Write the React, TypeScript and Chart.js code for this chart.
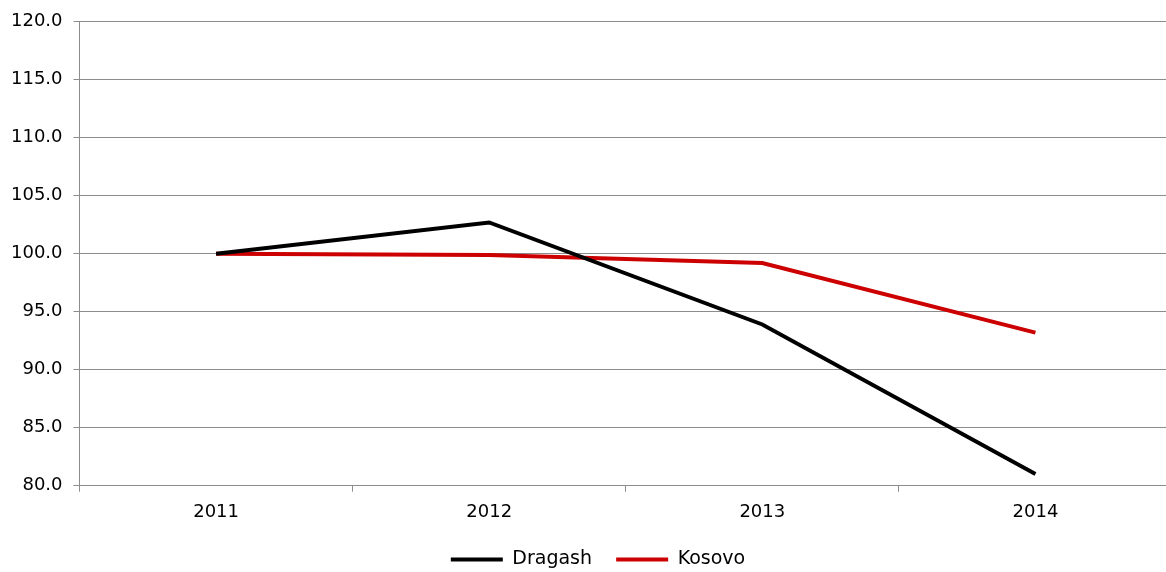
import React, { useEffect, useRef } from "react";
import { Chart, registerables } from "chart.js";

Chart.register(...registerables);

const categories = ["2011", "2012", "2013", "2014"];
const dragash = [100.0, 102.7, 93.9, 81.0];
const kosovo = [100.0, 99.9, 99.2, 93.2];
const yMin = 80;
const yMax = 120;
const yStep = 5;

const shiftLegend = {
  id: "shiftLegend",
  afterLayout(chart: any) {
    const l = chart.legend;
    if (l) {
      l.left += 12;
      l.right += 12;
    }
  },
};

export default function App() {
  const ref = useRef<HTMLCanvasElement | null>(null);
  useEffect(() => {
    if (!ref.current) return;
    const font = { family: "'DejaVu Sans', sans-serif", size: 18 };
    const legendFont = { family: "'DejaVu Sans', sans-serif", size: 19 };
    const chart = new Chart(ref.current, {
      type: "line",
      data: {
        labels: categories,
        datasets: [
          {
            label: "Dragash",
            data: dragash,
            borderColor: "#000000",
            backgroundColor: "#000000",
            borderWidth: 4,
            pointRadius: 0,
            tension: 0,
          },
          {
            label: "Kosovo",
            data: kosovo,
            borderColor: "#cc0000",
            backgroundColor: "#cc0000",
            borderWidth: 4,
            pointRadius: 0,
            tension: 0,
          },
        ],
      },
      plugins: [shiftLegend],
      options: {
        animation: false,
        responsive: false,
        layout: { padding: { top: 9, left: 0, right: 0, bottom: -7 } },
        plugins: {
          legend: {
            position: "bottom",
            labels: {
              font: legendFont,
              color: "#000",
              boxWidth: 52,
              boxHeight: 0,
              padding: 6,
              generateLabels: (c: any) =>
                c.data.datasets.map((d: any, i: number) => ({
                  text: i === 0 ? d.label + "   " : d.label,
                  strokeStyle: d.borderColor,
                  fillStyle: d.borderColor,
                  lineWidth: 4,
                  lineCap: "round",
                  datasetIndex: i,
                  fontColor: "#000",
                })),
            },
          },
          tooltip: { enabled: false },
        },
        scales: {
          x: {
            offset: true,
            grid: {
              offset: true,
              drawOnChartArea: false,
              drawTicks: true,
              tickLength: 6,
              color: "#8c8c8c",
            },
            border: { color: "#8c8c8c", width: 1 },
            ticks: { font, color: "#000", padding: 9.5 },
            title: { display: true, text: " ", font: { size: 1 }, padding: { top: 0, bottom: 10.5 } },
          },
          y: {
            min: yMin,
            max: yMax,
            ticks: {
              stepSize: yStep,
              font,
              color: "#000",
              padding: 11,
              callback: (v: any) => Number(v).toFixed(1),
            },
            grid: { color: "#8c8c8c", tickLength: 6, lineWidth: 1 },
            border: { color: "#8c8c8c", width: 1 },
          },
        },
      },
    });
    return () => chart.destroy();
  }, []);
  return (
    <div style={{ position: "absolute", left: 0, top: 0, width: 1166, height: 572, overflow: "hidden", background: "#fff" }}>
      <canvas ref={ref} width={1172} height={572} style={{ display: "block" }} />
    </div>
  );
}
